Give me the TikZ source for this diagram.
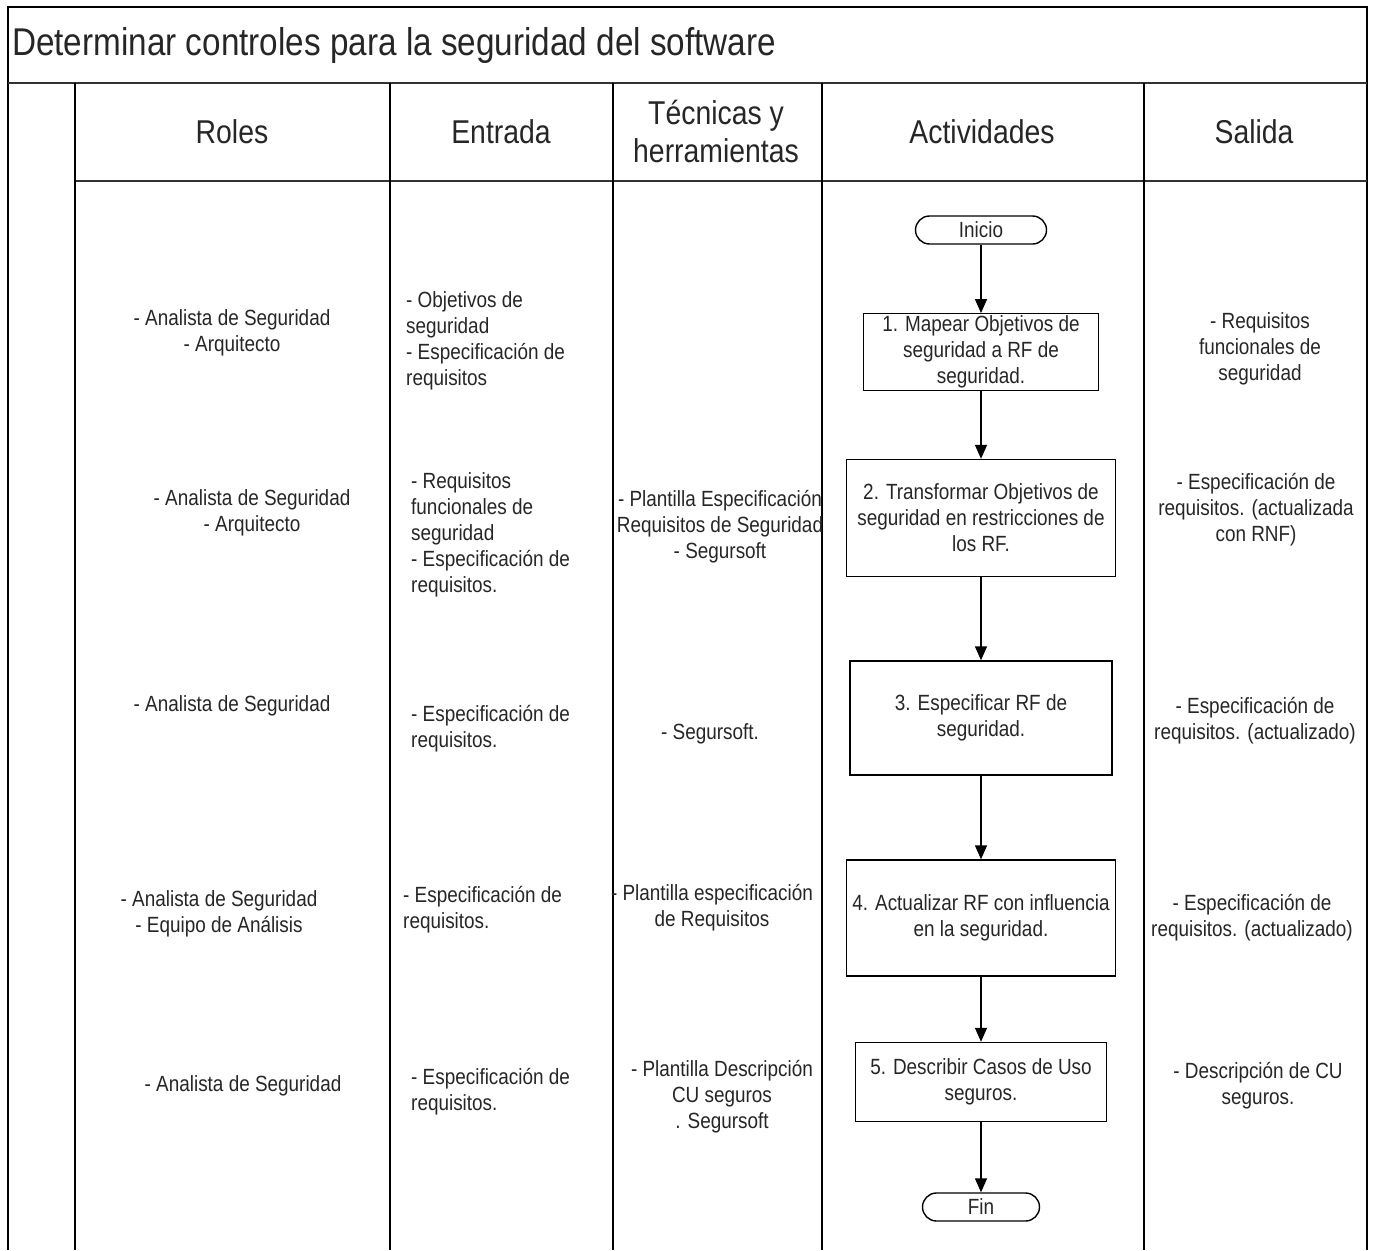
\documentclass[tikz,border=0pt]{standalone}
\usepackage{fontspec}
\setmainfont{Liberation Sans}[FakeStretch=0.86]
\usetikzlibrary{arrows.meta, positioning}
\definecolor{inkgray}{rgb}{0.15,0.15,0.15}

\begin{document}
\begin{tikzpicture}[
    x=1pt, y=-1pt,
    grid/.style={
        line width=1.4pt,
        color=black
    },
    ruleline/.style={
        line width=2.2pt,
        color=black!80
    },
    head/.style={
        font=\fontsize{33}{38}\selectfont,
        align=center,
        inner sep=0pt,
        text=inkgray
    },
    cell/.style={
        font=\fontsize{22}{26}\selectfont,
        align=center,
        inner sep=0pt,
        text=inkgray
    },
    cellleft/.style={
        cell,
        align=left
    },
    actbox/.style={
        rectangle,
        draw,
        line width=1.4pt,
        align=center,
        inner sep=2pt,
        font=\fontsize{22}{26}\selectfont,
        text=inkgray
    },
    terminal/.style={
        rectangle,
        draw,
        line width=1.4pt,
        rounded corners=14pt,
        minimum height=28pt,
        inner sep=0pt,
        font=\fontsize{22}{26}\selectfont,
        text=inkgray
    },
    flow/.style={
        -{Triangle[length=14pt, width=12pt]},
        line width=1.4pt
    }
]

\useasboundingbox (0,0) rectangle (1373,1250);

% frame and columns
\draw[grid] (8,1250) -- (8,7) -- (1367,7) -- (1367,1250);
\draw[ruleline] (8,83) -- (1367,83);
\draw[ruleline] (75,181) -- (1367,181);
\foreach \xcol in {75,390,613,822,1144}
    \draw[grid] (\xcol,83) -- (\xcol,1250);

\node[anchor=west, font=\fontsize{38.7}{42}\selectfont, inner sep=0pt, text=inkgray] (title) at (12,45)
    {Determinar controles para la seguridad del software};

% headers
\node[head] (hroles)  at (232,132)  {Roles};
\node[head] (hinput)  at (501,132)  {Entrada};
\node[head] (htools)  at (716,132)  {Técnicas y\\herramientas};
\node[head] (hacts)   at (982,132)  {Actividades};
\node[head] (hout)    at (1254,132) {Salida};

% roles
\node[cell] (roleA) at (232,333)  {- Analista de Seguridad\\- Arquitecto};
\node[cell] (roleB) at (252,513)  {- Analista de Seguridad\\- Arquitecto};
\node[cell] (roleC) at (232,706)  {- Analista de Seguridad};
\node[cell] (roleD) at (219,914)  {- Analista de Seguridad\\- Equipo de Análisis};
\node[cell] (roleE) at (243,1086) {- Analista de Seguridad};

% inputs
\node[cellleft, anchor=west] (inA) at (406,341)  {- Objetivos de\\seguridad\\- Especificación de\\requisitos};
\node[cellleft, anchor=west] (inB) at (411,535)  {- Requisitos\\funcionales de\\seguridad\\- Especificación de\\requisitos.};
\node[cellleft, anchor=west] (inC) at (411,729)  {- Especificación de\\requisitos.};
\node[cellleft, anchor=west] (inD) at (403,910)  {- Especificación de\\requisitos.};
\node[cellleft, anchor=west] (inE) at (411,1092) {- Especificación de\\requisitos.};

% techniques and tools
\node[cell] (toolB) at (720,527)  {- Plantilla Especificación\\Requisitos de Seguridad\\- Segursoft};
\node[cell] (toolC) at (710,734)  {- Segursoft.};
\node[cell] (toolD) at (712,908)  {- Plantilla especificación\\de Requisitos};
\node[cell] (toolE) at (722,1097) {- Plantilla Descripción\\CU seguros\\. Segursoft};

% activities
\node[terminal, minimum width=131pt] (start) at (981,230) {Inicio};
\node[actbox, minimum width=235pt, minimum height=76pt]  (actA) at (981,352)  {1. Mapear Objetivos de\\seguridad a RF de\\seguridad.};
\node[actbox, minimum width=269pt, minimum height=117pt] (actB) at (981,518)  {2. Transformar Objetivos de\\seguridad en restricciones de\\los RF.};
\node[actbox, minimum width=262pt, minimum height=114pt] (actC) at (981,718)  {3. Especificar RF de\\seguridad.};
\node[actbox, minimum width=269pt, minimum height=116pt] (actD) at (981,918)  {4. Actualizar RF con influencia\\en la seguridad.};
\node[actbox, minimum width=251pt, minimum height=79pt]  (actE) at (981,1082) {5. Describir Casos de Uso\\seguros.};
\node[terminal, minimum width=117pt] (finish) at (981,1207) {Fin};

\draw[flow] (start) -- (actA);
\draw[flow] (actA)  -- (actB);
\draw[flow] (actB)  -- (actC);
\draw[flow] (actC)  -- (actD);
\draw[flow] (actD)  -- (actE);
\draw[flow] (actE)  -- (finish);

% outputs
\node[cell] (outA) at (1260,349)  {- Requisitos\\funcionales de\\seguridad};
\node[cell] (outB) at (1256,510)  {- Especificación de\\requisitos. (actualizada\\con RNF)};
\node[cell] (outC) at (1255,721)  {- Especificación de\\requisitos. (actualizado)};
\node[cell] (outD) at (1252,918)  {- Especificación de\\requisitos. (actualizado)};
\node[cell] (outE) at (1258,1086) {- Descripción de CU\\seguros.};

\end{tikzpicture}
\end{document}
